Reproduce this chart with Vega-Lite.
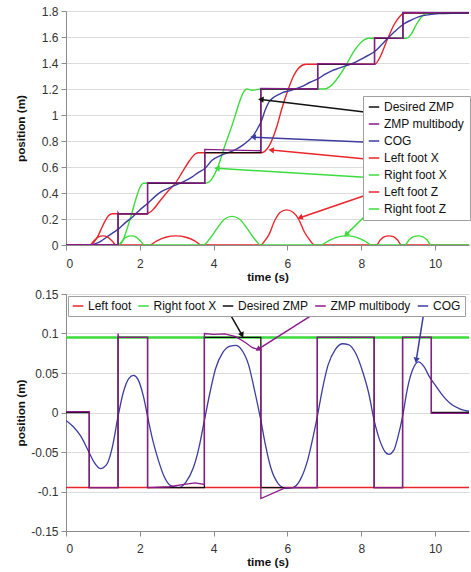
{
  "$schema": "https://vega.github.io/schema/vega-lite/v6.json",
  "padding": {"left": 15, "top": 5, "right": 0, "bottom": 0},
  "spacing": 5,
  "config": {
    "view": {"stroke": null},
    "font": "Liberation Sans",
    "locale": {"number": {"decimal": ".", "thousands": ",", "grouping": [3], "currency": ["$", ""], "minus": "-"}},
    "axis": {
      "labelFont": "Liberation Sans", "labelFontSize": 12, "labelColor": "#333",
      "titleFont": "Liberation Sans", "titleFontSize": 11.7, "titleFontWeight": "bold", "titleColor": "#111",
      "domainColor": "#8c8c8c", "tickColor": "#8c8c8c", "tickSize": 5, "gridColor": "#dcdcdc", "labelPadding": 3
    },
    "legend": {
      "labelFont": "Liberation Sans", "labelFontSize": 12, "labelColor": "#111",
      "symbolType": "stroke", "symbolSize": 110, "symbolStrokeWidth": 1.5,
      "fillColor": "white", "strokeColor": "#a0a0a0", "labelOffset": 4
    }
  },
  "resolve": {"scale": {"color": "independent"}, "legend": {"color": "independent"}},
  "datasets": {
    "top": [
      {"series": "Left foot X", "t": 0, "v": 0}, {"series": "Left foot X", "t": 0.65, "v": 0}, {"series": "Left foot X", "t": 0.75, "v": 0.02}, {"series": "Left foot X", "t": 0.85, "v": 0.06}, {"series": "Left foot X", "t": 0.95, "v": 0.12}, {"series": "Left foot X", "t": 1.05, "v": 0.18}, {"series": "Left foot X", "t": 1.15, "v": 0.225}, {"series": "Left foot X", "t": 1.25, "v": 0.24}, {"series": "Left foot X", "t": 2.17, "v": 0.24}, {"series": "Left foot X", "t": 2.35, "v": 0.27}, {"series": "Left foot X", "t": 2.55, "v": 0.34}, {"series": "Left foot X", "t": 2.75, "v": 0.41}, {"series": "Left foot X", "t": 2.95, "v": 0.47}, {"series": "Left foot X", "t": 3.15, "v": 0.56}, {"series": "Left foot X", "t": 3.35, "v": 0.65}, {"series": "Left foot X", "t": 3.5, "v": 0.7}, {"series": "Left foot X", "t": 3.6, "v": 0.71}, {"series": "Left foot X", "t": 5.3, "v": 0.71}, {"series": "Left foot X", "t": 5.5, "v": 0.76}, {"series": "Left foot X", "t": 5.7, "v": 0.9}, {"series": "Left foot X", "t": 5.85, "v": 1.05}, {"series": "Left foot X", "t": 6.0, "v": 1.18}, {"series": "Left foot X", "t": 6.15, "v": 1.29}, {"series": "Left foot X", "t": 6.3, "v": 1.36}, {"series": "Left foot X", "t": 6.5, "v": 1.39}, {"series": "Left foot X", "t": 8.37, "v": 1.39}, {"series": "Left foot X", "t": 8.5, "v": 1.44}, {"series": "Left foot X", "t": 8.72, "v": 1.59}, {"series": "Left foot X", "t": 8.9, "v": 1.7}, {"series": "Left foot X", "t": 9.05, "v": 1.76}, {"series": "Left foot X", "t": 9.16, "v": 1.785}, {"series": "Left foot X", "t": 11, "v": 1.785},
      {"series": "Right foot X", "t": 0, "v": 0}, {"series": "Right foot X", "t": 1.45, "v": 0}, {"series": "Right foot X", "t": 1.55, "v": 0.04}, {"series": "Right foot X", "t": 1.65, "v": 0.12}, {"series": "Right foot X", "t": 1.77, "v": 0.23}, {"series": "Right foot X", "t": 1.9, "v": 0.36}, {"series": "Right foot X", "t": 2.0, "v": 0.44}, {"series": "Right foot X", "t": 2.1, "v": 0.475}, {"series": "Right foot X", "t": 3.78, "v": 0.475}, {"series": "Right foot X", "t": 3.9, "v": 0.49}, {"series": "Right foot X", "t": 4.0, "v": 0.53}, {"series": "Right foot X", "t": 4.1, "v": 0.59}, {"series": "Right foot X", "t": 4.2, "v": 0.67}, {"series": "Right foot X", "t": 4.3, "v": 0.76}, {"series": "Right foot X", "t": 4.4, "v": 0.84}, {"series": "Right foot X", "t": 4.5, "v": 0.92}, {"series": "Right foot X", "t": 4.6, "v": 1.01}, {"series": "Right foot X", "t": 4.7, "v": 1.1}, {"series": "Right foot X", "t": 4.8, "v": 1.17}, {"series": "Right foot X", "t": 4.9, "v": 1.2}, {"series": "Right foot X", "t": 5.05, "v": 1.19}, {"series": "Right foot X", "t": 5.3, "v": 1.2}, {"series": "Right foot X", "t": 7.0, "v": 1.2}, {"series": "Right foot X", "t": 7.2, "v": 1.23}, {"series": "Right foot X", "t": 7.4, "v": 1.3}, {"series": "Right foot X", "t": 7.6, "v": 1.39}, {"series": "Right foot X", "t": 7.8, "v": 1.49}, {"series": "Right foot X", "t": 8.0, "v": 1.56}, {"series": "Right foot X", "t": 8.2, "v": 1.59}, {"series": "Right foot X", "t": 9.22, "v": 1.59}, {"series": "Right foot X", "t": 9.35, "v": 1.62}, {"series": "Right foot X", "t": 9.5, "v": 1.7}, {"series": "Right foot X", "t": 9.65, "v": 1.76}, {"series": "Right foot X", "t": 9.8, "v": 1.785}, {"series": "Right foot X", "t": 11, "v": 1.785},
      {"series": "COG", "t": 0, "v": 0}, {"series": "COG", "t": 0.65, "v": 0}, {"series": "COG", "t": 0.8, "v": 0.01}, {"series": "COG", "t": 0.95, "v": 0.03}, {"series": "COG", "t": 1.1, "v": 0.06}, {"series": "COG", "t": 1.25, "v": 0.09}, {"series": "COG", "t": 1.41, "v": 0.12}, {"series": "COG", "t": 1.6, "v": 0.17}, {"series": "COG", "t": 1.82, "v": 0.22}, {"series": "COG", "t": 2.0, "v": 0.27}, {"series": "COG", "t": 2.21, "v": 0.32}, {"series": "COG", "t": 2.4, "v": 0.37}, {"series": "COG", "t": 2.58, "v": 0.41}, {"series": "COG", "t": 2.8, "v": 0.44}, {"series": "COG", "t": 3.0, "v": 0.465}, {"series": "COG", "t": 3.2, "v": 0.49}, {"series": "COG", "t": 3.4, "v": 0.52}, {"series": "COG", "t": 3.6, "v": 0.56}, {"series": "COG", "t": 3.77, "v": 0.59}, {"series": "COG", "t": 3.95, "v": 0.65}, {"series": "COG", "t": 4.2, "v": 0.69}, {"series": "COG", "t": 4.57, "v": 0.73}, {"series": "COG", "t": 4.8, "v": 0.77}, {"series": "COG", "t": 4.93, "v": 0.8}, {"series": "COG", "t": 5.07, "v": 0.84}, {"series": "COG", "t": 5.2, "v": 0.9}, {"series": "COG", "t": 5.29, "v": 0.95}, {"series": "COG", "t": 5.4, "v": 1.04}, {"series": "COG", "t": 5.5, "v": 1.1}, {"series": "COG", "t": 5.65, "v": 1.14}, {"series": "COG", "t": 5.85, "v": 1.17}, {"series": "COG", "t": 6.1, "v": 1.19}, {"series": "COG", "t": 6.4, "v": 1.22}, {"series": "COG", "t": 6.6, "v": 1.25}, {"series": "COG", "t": 6.84, "v": 1.28}, {"series": "COG", "t": 7.0, "v": 1.31}, {"series": "COG", "t": 7.2, "v": 1.34}, {"series": "COG", "t": 7.4, "v": 1.36}, {"series": "COG", "t": 7.6, "v": 1.38}, {"series": "COG", "t": 7.8, "v": 1.4}, {"series": "COG", "t": 8.0, "v": 1.43}, {"series": "COG", "t": 8.2, "v": 1.46}, {"series": "COG", "t": 8.37, "v": 1.49}, {"series": "COG", "t": 8.55, "v": 1.54}, {"series": "COG", "t": 8.72, "v": 1.59}, {"series": "COG", "t": 8.9, "v": 1.64}, {"series": "COG", "t": 9.15, "v": 1.7}, {"series": "COG", "t": 9.35, "v": 1.73}, {"series": "COG", "t": 9.55, "v": 1.755}, {"series": "COG", "t": 9.8, "v": 1.77}, {"series": "COG", "t": 10.1, "v": 1.78}, {"series": "COG", "t": 11, "v": 1.785},
      {"series": "Left foot Z", "t": 0, "v": 0}, {"series": "Left foot Z", "t": 0.65, "v": 0}, {"series": "Left foot Z", "t": 0.75, "v": 0.03}, {"series": "Left foot Z", "t": 0.87, "v": 0.06}, {"series": "Left foot Z", "t": 1.0, "v": 0.07}, {"series": "Left foot Z", "t": 1.13, "v": 0.06}, {"series": "Left foot Z", "t": 1.25, "v": 0.03}, {"series": "Left foot Z", "t": 1.36, "v": 0}, {"series": "Left foot Z", "t": 2.27, "v": 0}, {"series": "Left foot Z", "t": 2.45, "v": 0.03}, {"series": "Left foot Z", "t": 2.7, "v": 0.06}, {"series": "Left foot Z", "t": 2.98, "v": 0.07}, {"series": "Left foot Z", "t": 3.25, "v": 0.06}, {"series": "Left foot Z", "t": 3.5, "v": 0.03}, {"series": "Left foot Z", "t": 3.66, "v": 0}, {"series": "Left foot Z", "t": 5.28, "v": 0}, {"series": "Left foot Z", "t": 5.38, "v": 0.03}, {"series": "Left foot Z", "t": 5.5, "v": 0.08}, {"series": "Left foot Z", "t": 5.66, "v": 0.19}, {"series": "Left foot Z", "t": 5.8, "v": 0.25}, {"series": "Left foot Z", "t": 5.98, "v": 0.27}, {"series": "Left foot Z", "t": 6.16, "v": 0.25}, {"series": "Left foot Z", "t": 6.3, "v": 0.2}, {"series": "Left foot Z", "t": 6.46, "v": 0.1}, {"series": "Left foot Z", "t": 6.6, "v": 0.04}, {"series": "Left foot Z", "t": 6.74, "v": 0}, {"series": "Left foot Z", "t": 8.41, "v": 0}, {"series": "Left foot Z", "t": 8.52, "v": 0.04}, {"series": "Left foot Z", "t": 8.63, "v": 0.065}, {"series": "Left foot Z", "t": 8.75, "v": 0.07}, {"series": "Left foot Z", "t": 8.87, "v": 0.065}, {"series": "Left foot Z", "t": 8.98, "v": 0.04}, {"series": "Left foot Z", "t": 9.09, "v": 0}, {"series": "Left foot Z", "t": 11, "v": 0},
      {"series": "Right foot Z", "t": 0, "v": 0}, {"series": "Right foot Z", "t": 1.42, "v": 0}, {"series": "Right foot Z", "t": 1.52, "v": 0.03}, {"series": "Right foot Z", "t": 1.63, "v": 0.06}, {"series": "Right foot Z", "t": 1.77, "v": 0.07}, {"series": "Right foot Z", "t": 1.9, "v": 0.06}, {"series": "Right foot Z", "t": 2.02, "v": 0.03}, {"series": "Right foot Z", "t": 2.12, "v": 0}, {"series": "Right foot Z", "t": 3.72, "v": 0}, {"series": "Right foot Z", "t": 3.9, "v": 0.05}, {"series": "Right foot Z", "t": 4.1, "v": 0.13}, {"series": "Right foot Z", "t": 4.3, "v": 0.2}, {"series": "Right foot Z", "t": 4.5, "v": 0.22}, {"series": "Right foot Z", "t": 4.7, "v": 0.2}, {"series": "Right foot Z", "t": 4.9, "v": 0.13}, {"series": "Right foot Z", "t": 5.1, "v": 0.05}, {"series": "Right foot Z", "t": 5.28, "v": 0}, {"series": "Right foot Z", "t": 6.9, "v": 0}, {"series": "Right foot Z", "t": 7.1, "v": 0.03}, {"series": "Right foot Z", "t": 7.35, "v": 0.06}, {"series": "Right foot Z", "t": 7.6, "v": 0.07}, {"series": "Right foot Z", "t": 7.85, "v": 0.06}, {"series": "Right foot Z", "t": 8.1, "v": 0.03}, {"series": "Right foot Z", "t": 8.28, "v": 0}, {"series": "Right foot Z", "t": 9.18, "v": 0}, {"series": "Right foot Z", "t": 9.3, "v": 0.04}, {"series": "Right foot Z", "t": 9.42, "v": 0.065}, {"series": "Right foot Z", "t": 9.54, "v": 0.07}, {"series": "Right foot Z", "t": 9.66, "v": 0.065}, {"series": "Right foot Z", "t": 9.78, "v": 0.04}, {"series": "Right foot Z", "t": 9.89, "v": 0}, {"series": "Right foot Z", "t": 11, "v": 0},
      {"series": "Desired ZMP", "t": 0, "v": 0}, {"series": "Desired ZMP", "t": 1.41, "v": 0}, {"series": "Desired ZMP", "t": 1.41, "v": 0.24}, {"series": "Desired ZMP", "t": 2.21, "v": 0.24}, {"series": "Desired ZMP", "t": 2.21, "v": 0.475}, {"series": "Desired ZMP", "t": 3.76, "v": 0.475}, {"series": "Desired ZMP", "t": 3.76, "v": 0.71}, {"series": "Desired ZMP", "t": 5.28, "v": 0.71}, {"series": "Desired ZMP", "t": 5.28, "v": 1.2}, {"series": "Desired ZMP", "t": 6.82, "v": 1.2}, {"series": "Desired ZMP", "t": 6.82, "v": 1.39}, {"series": "Desired ZMP", "t": 8.36, "v": 1.39}, {"series": "Desired ZMP", "t": 8.36, "v": 1.59}, {"series": "Desired ZMP", "t": 9.13, "v": 1.59}, {"series": "Desired ZMP", "t": 9.13, "v": 1.785}, {"series": "Desired ZMP", "t": 11, "v": 1.785},
      {"series": "ZMP multibody", "t": 0, "v": 0.003}, {"series": "ZMP multibody", "t": 1.41, "v": 0.003}, {"series": "ZMP multibody", "t": 1.41, "v": 0.25}, {"series": "ZMP multibody", "t": 1.43, "v": 0.24}, {"series": "ZMP multibody", "t": 2.21, "v": 0.24}, {"series": "ZMP multibody", "t": 2.21, "v": 0.48}, {"series": "ZMP multibody", "t": 3.76, "v": 0.475}, {"series": "ZMP multibody", "t": 3.76, "v": 0.735}, {"series": "ZMP multibody", "t": 4.5, "v": 0.73}, {"series": "ZMP multibody", "t": 5.28, "v": 0.725}, {"series": "ZMP multibody", "t": 5.28, "v": 1.205}, {"series": "ZMP multibody", "t": 6.82, "v": 1.2}, {"series": "ZMP multibody", "t": 6.82, "v": 1.395}, {"series": "ZMP multibody", "t": 8.36, "v": 1.39}, {"series": "ZMP multibody", "t": 8.36, "v": 1.595}, {"series": "ZMP multibody", "t": 9.13, "v": 1.59}, {"series": "ZMP multibody", "t": 9.13, "v": 1.79}, {"series": "ZMP multibody", "t": 11, "v": 1.785}
    ],
    "topArrows": [
      {"series": "Desired ZMP", "t": 8.2, "v": 1.02, "t2": 5.28, "v2": 1.12},
      {"series": "COG", "t": 8.2, "v": 0.79, "t2": 5.07, "v2": 0.83},
      {"series": "Left foot X", "t": 8.2, "v": 0.66, "t2": 5.56, "v2": 0.73},
      {"series": "Right foot X", "t": 8.2, "v": 0.52, "t2": 4.09, "v2": 0.59},
      {"series": "Left foot Z", "t": 8.2, "v": 0.39, "t2": 6.34, "v2": 0.21},
      {"series": "Right foot Z", "t": 8.2, "v": 0.25, "t2": 7.59, "v2": 0.08}
    ],
    "bot": [
      {"series": "Left foot", "t": 0, "v": -0.095}, {"series": "Left foot", "t": 11, "v": -0.095},
      {"series": "Right foot X", "t": 0, "v": 0.095}, {"series": "Right foot X", "t": 11, "v": 0.095},
      {"series": "Desired ZMP", "t": 0, "v": 0}, {"series": "Desired ZMP", "t": 0.63, "v": 0}, {"series": "Desired ZMP", "t": 0.63, "v": -0.095}, {"series": "Desired ZMP", "t": 1.41, "v": -0.095}, {"series": "Desired ZMP", "t": 1.41, "v": 0.095}, {"series": "Desired ZMP", "t": 2.21, "v": 0.095}, {"series": "Desired ZMP", "t": 2.21, "v": -0.095}, {"series": "Desired ZMP", "t": 3.75, "v": -0.095}, {"series": "Desired ZMP", "t": 3.75, "v": 0.095}, {"series": "Desired ZMP", "t": 5.28, "v": 0.095}, {"series": "Desired ZMP", "t": 5.28, "v": -0.095}, {"series": "Desired ZMP", "t": 6.81, "v": -0.095}, {"series": "Desired ZMP", "t": 6.81, "v": 0.095}, {"series": "Desired ZMP", "t": 8.35, "v": 0.095}, {"series": "Desired ZMP", "t": 8.35, "v": -0.095}, {"series": "Desired ZMP", "t": 9.12, "v": -0.095}, {"series": "Desired ZMP", "t": 9.12, "v": 0.095}, {"series": "Desired ZMP", "t": 9.9, "v": 0.095}, {"series": "Desired ZMP", "t": 9.9, "v": 0}, {"series": "Desired ZMP", "t": 11, "v": 0},
      {"series": "ZMP multibody", "t": 0, "v": 0.001}, {"series": "ZMP multibody", "t": 0.63, "v": 0.001}, {"series": "ZMP multibody", "t": 0.63, "v": -0.095}, {"series": "ZMP multibody", "t": 1.41, "v": -0.095}, {"series": "ZMP multibody", "t": 1.41, "v": 0.1}, {"series": "ZMP multibody", "t": 1.43, "v": 0.095}, {"series": "ZMP multibody", "t": 2.21, "v": 0.095}, {"series": "ZMP multibody", "t": 2.21, "v": -0.095}, {"series": "ZMP multibody", "t": 2.8, "v": -0.094}, {"series": "ZMP multibody", "t": 3.2, "v": -0.091}, {"series": "ZMP multibody", "t": 3.5, "v": -0.089}, {"series": "ZMP multibody", "t": 3.75, "v": -0.091}, {"series": "ZMP multibody", "t": 3.75, "v": 0.1}, {"series": "ZMP multibody", "t": 4.0, "v": 0.099}, {"series": "ZMP multibody", "t": 4.3, "v": 0.0995}, {"series": "ZMP multibody", "t": 4.6, "v": 0.096}, {"series": "ZMP multibody", "t": 4.85, "v": 0.089}, {"series": "ZMP multibody", "t": 5.05, "v": 0.082}, {"series": "ZMP multibody", "t": 5.2, "v": 0.08}, {"series": "ZMP multibody", "t": 5.28, "v": 0.081}, {"series": "ZMP multibody", "t": 5.28, "v": -0.109}, {"series": "ZMP multibody", "t": 5.95, "v": -0.095}, {"series": "ZMP multibody", "t": 6.81, "v": -0.095}, {"series": "ZMP multibody", "t": 6.81, "v": 0.095}, {"series": "ZMP multibody", "t": 8.35, "v": 0.095}, {"series": "ZMP multibody", "t": 8.35, "v": -0.095}, {"series": "ZMP multibody", "t": 9.12, "v": -0.095}, {"series": "ZMP multibody", "t": 9.12, "v": 0.095}, {"series": "ZMP multibody", "t": 9.9, "v": 0.095}, {"series": "ZMP multibody", "t": 9.9, "v": -0.001}, {"series": "ZMP multibody", "t": 11, "v": -0.001},
      {"series": "COG", "t": 0, "v": -0.01}, {"series": "COG", "t": 0.2, "v": -0.018}, {"series": "COG", "t": 0.4, "v": -0.03}, {"series": "COG", "t": 0.6, "v": -0.048}, {"series": "COG", "t": 0.75, "v": -0.062}, {"series": "COG", "t": 0.93, "v": -0.071}, {"series": "COG", "t": 1.1, "v": -0.066}, {"series": "COG", "t": 1.25, "v": -0.045}, {"series": "COG", "t": 1.41, "v": -0.005}, {"series": "COG", "t": 1.55, "v": 0.025}, {"series": "COG", "t": 1.7, "v": 0.043}, {"series": "COG", "t": 1.83, "v": 0.047}, {"series": "COG", "t": 1.95, "v": 0.042}, {"series": "COG", "t": 2.1, "v": 0.02}, {"series": "COG", "t": 2.21, "v": -0.005}, {"series": "COG", "t": 2.35, "v": -0.035}, {"series": "COG", "t": 2.5, "v": -0.06}, {"series": "COG", "t": 2.65, "v": -0.08}, {"series": "COG", "t": 2.85, "v": -0.093}, {"series": "COG", "t": 3.05, "v": -0.095}, {"series": "COG", "t": 3.25, "v": -0.088}, {"series": "COG", "t": 3.45, "v": -0.07}, {"series": "COG", "t": 3.6, "v": -0.045}, {"series": "COG", "t": 3.75, "v": -0.01}, {"series": "COG", "t": 3.9, "v": 0.025}, {"series": "COG", "t": 4.05, "v": 0.055}, {"series": "COG", "t": 4.25, "v": 0.076}, {"series": "COG", "t": 4.45, "v": 0.084}, {"series": "COG", "t": 4.6, "v": 0.085}, {"series": "COG", "t": 4.75, "v": 0.08}, {"series": "COG", "t": 4.95, "v": 0.06}, {"series": "COG", "t": 5.1, "v": 0.03}, {"series": "COG", "t": 5.28, "v": -0.01}, {"series": "COG", "t": 5.4, "v": -0.04}, {"series": "COG", "t": 5.55, "v": -0.07}, {"series": "COG", "t": 5.75, "v": -0.09}, {"series": "COG", "t": 5.95, "v": -0.096}, {"series": "COG", "t": 6.15, "v": -0.095}, {"series": "COG", "t": 6.35, "v": -0.085}, {"series": "COG", "t": 6.55, "v": -0.06}, {"series": "COG", "t": 6.7, "v": -0.03}, {"series": "COG", "t": 6.81, "v": -0.005}, {"series": "COG", "t": 6.95, "v": 0.03}, {"series": "COG", "t": 7.1, "v": 0.06}, {"series": "COG", "t": 7.3, "v": 0.08}, {"series": "COG", "t": 7.5, "v": 0.087}, {"series": "COG", "t": 7.65, "v": 0.086}, {"series": "COG", "t": 7.85, "v": 0.075}, {"series": "COG", "t": 8.05, "v": 0.05}, {"series": "COG", "t": 8.2, "v": 0.025}, {"series": "COG", "t": 8.35, "v": -0.01}, {"series": "COG", "t": 8.5, "v": -0.035}, {"series": "COG", "t": 8.65, "v": -0.05}, {"series": "COG", "t": 8.75, "v": -0.053}, {"series": "COG", "t": 8.88, "v": -0.048}, {"series": "COG", "t": 9.0, "v": -0.03}, {"series": "COG", "t": 9.12, "v": -0.005}, {"series": "COG", "t": 9.25, "v": 0.03}, {"series": "COG", "t": 9.4, "v": 0.055}, {"series": "COG", "t": 9.55, "v": 0.064}, {"series": "COG", "t": 9.7, "v": 0.058}, {"series": "COG", "t": 9.85, "v": 0.045}, {"series": "COG", "t": 10.0, "v": 0.035}, {"series": "COG", "t": 10.2, "v": 0.022}, {"series": "COG", "t": 10.45, "v": 0.01}, {"series": "COG", "t": 10.7, "v": 0.004}, {"series": "COG", "t": 11, "v": 0.001}
    ],
    "botArrows": [
      {"series": "Desired ZMP", "t": 4.38, "v": 0.13, "t2": 4.77, "v2": 0.098},
      {"series": "ZMP multibody", "t": 6.92, "v": 0.131, "t2": 5.2, "v2": 0.08},
      {"series": "COG", "t": 9.71, "v": 0.131, "t2": 9.49, "v2": 0.066}
    ]
  },
  "vconcat": [
    {
      "width": 403,
      "height": 234,
      "encoding": {
        "x": {"field": "t", "type": "quantitative", "scale": {"domain": [0, 10.92], "nice": false, "zero": false},
          "axis": {"title": "time (s)", "values": [0, 2, 4, 6, 8, 10], "format": "d", "grid": false, "labelPadding": 8, "titlePadding": 2}},
        "y": {"field": "v", "type": "quantitative", "scale": {"domain": [0, 1.8], "nice": false, "zero": false},
          "axis": {"title": "position (m)", "values": [0, 0.2, 0.4, 0.6, 0.8, 1, 1.2, 1.4, 1.6, 1.8], "format": ".1~f", "grid": true, "titleX": -41.5, "titleBaseline": "alphabetic"}},
        "color": {"field": "series", "type": "nominal",
          "scale": {"domain": ["Desired ZMP", "ZMP multibody", "COG", "Left foot X", "Right foot X", "Left foot Z", "Right foot Z"],
                    "range": ["#111111", "#8B1A8B", "#3C3CA0", "#E8262B", "#3CDC3C", "#E8262B", "#3CDC3C"]},
          "legend": {"title": null, "orient": "none", "legendX": 297, "legendY": 85, "direction": "vertical", "padding": 5, "rowPadding": 5, "symbolType": "stroke"}}
      },
      "layer": [
        {"data": {"name": "top"}, "transform": [{"filter": {"field": "series", "oneOf": ["Right foot Z", "Left foot Z", "Right foot X", "Left foot X", "COG"]}}],
         "mark": {"type": "line", "interpolate": "monotone", "strokeWidth": 1.4, "clip": true}},
        {"data": {"name": "top"}, "transform": [{"filter": {"field": "series", "oneOf": ["Desired ZMP", "ZMP multibody"]}}],
         "mark": {"type": "line", "strokeWidth": 1.3, "clip": true}, "encoding": {"order": {"value": null}}},
        {"data": {"name": "topArrows"}, "mark": {"type": "rule", "strokeWidth": 1.5}, "encoding": {"x2": {"field": "t2"}, "y2": {"field": "v2"}}},
        {"data": {"name": "topArrows"}, "transform": [{"filter": {"field": "series", "oneOf": ["Desired ZMP", "COG", "Left foot X", "Right foot X"]}}],
         "mark": {"type": "point", "shape": "triangle-left", "filled": true, "size": 40, "opacity": 1, "angle": 5},
         "encoding": {"x": {"field": "t2", "type": "quantitative"}, "y": {"field": "v2", "type": "quantitative"}}},
        {"data": {"name": "topArrows"}, "transform": [{"filter": {"field": "series", "equal": "Left foot Z"}}],
         "mark": {"type": "point", "shape": "triangle-left", "filled": true, "size": 40, "opacity": 1, "angle": -19},
         "encoding": {"x": {"field": "t2", "type": "quantitative"}, "y": {"field": "v2", "type": "quantitative"}}},
        {"data": {"name": "topArrows"}, "transform": [{"filter": {"field": "series", "equal": "Right foot Z"}}],
         "mark": {"type": "point", "shape": "triangle-left", "filled": true, "size": 40, "opacity": 1, "angle": -45},
         "encoding": {"x": {"field": "t2", "type": "quantitative"}, "y": {"field": "v2", "type": "quantitative"}}}
      ]
    },
    {
      "width": 403,
      "height": 237,
      "encoding": {
        "x": {"field": "t", "type": "quantitative", "scale": {"domain": [0, 10.92], "nice": false, "zero": false},
          "axis": {"title": "time (s)", "values": [0, 2, 4, 6, 8, 10], "format": "d", "grid": false, "labelPadding": 7, "titlePadding": 2}},
        "y": {"field": "v", "type": "quantitative", "scale": {"domain": [-0.15, 0.15], "nice": false, "zero": false},
          "axis": {"title": "position (m)", "values": [-0.15, -0.1, -0.05, 0, 0.05, 0.1, 0.15], "format": ".2~f", "grid": true, "titleX": -41.5, "titleBaseline": "alphabetic"}},
        "color": {"field": "series", "type": "nominal",
          "scale": {"domain": ["Left foot", "Right foot X", "Desired ZMP", "ZMP multibody", "COG"],
                    "range": ["#E8262B", "#3CDC3C", "#111111", "#8B1A8B", "#3C3CA0"]},
          "legend": {"title": null, "orient": "none", "legendX": 2, "legendY": 2, "direction": "horizontal", "columns": 5, "padding": 4, "columnPadding": 2.5, "symbolType": "stroke"}}
      },
      "layer": [
        {"data": {"name": "bot"}, "transform": [{"filter": {"field": "series", "equal": "Right foot X"}}],
         "mark": {"type": "line", "strokeWidth": 2.5, "clip": true}},
        {"data": {"name": "bot"}, "transform": [{"filter": {"field": "series", "equal": "Left foot"}}],
         "mark": {"type": "line", "strokeWidth": 1.6, "clip": true}},
        {"data": {"name": "bot"}, "transform": [{"filter": {"field": "series", "equal": "COG"}}],
         "mark": {"type": "line", "interpolate": "monotone", "strokeWidth": 1.3, "clip": true}},
        {"data": {"name": "bot"}, "transform": [{"filter": {"field": "series", "oneOf": ["Desired ZMP", "ZMP multibody"]}}],
         "mark": {"type": "line", "strokeWidth": 1.3, "clip": true}, "encoding": {"order": {"value": null}}},
        {"data": {"name": "botArrows"}, "mark": {"type": "rule", "strokeWidth": 1.5}, "encoding": {"x2": {"field": "t2"}, "y2": {"field": "v2"}}},
        {"data": {"name": "botArrows"}, "transform": [{"filter": {"field": "series", "equal": "Desired ZMP"}}],
         "mark": {"type": "point", "shape": "triangle-down", "filled": true, "size": 40, "opacity": 1, "angle": -25},
         "encoding": {"x": {"field": "t2", "type": "quantitative"}, "y": {"field": "v2", "type": "quantitative"}}},
        {"data": {"name": "botArrows"}, "transform": [{"filter": {"field": "series", "equal": "ZMP multibody"}}],
         "mark": {"type": "point", "shape": "triangle-left", "filled": true, "size": 40, "opacity": 1, "angle": -33},
         "encoding": {"x": {"field": "t2", "type": "quantitative"}, "y": {"field": "v2", "type": "quantitative"}}},
        {"data": {"name": "botArrows"}, "transform": [{"filter": {"field": "series", "equal": "COG"}}],
         "mark": {"type": "point", "shape": "triangle-down", "filled": true, "size": 40, "opacity": 1, "angle": 10},
         "encoding": {"x": {"field": "t2", "type": "quantitative"}, "y": {"field": "v2", "type": "quantitative"}}}
      ]
    }
  ]
}
